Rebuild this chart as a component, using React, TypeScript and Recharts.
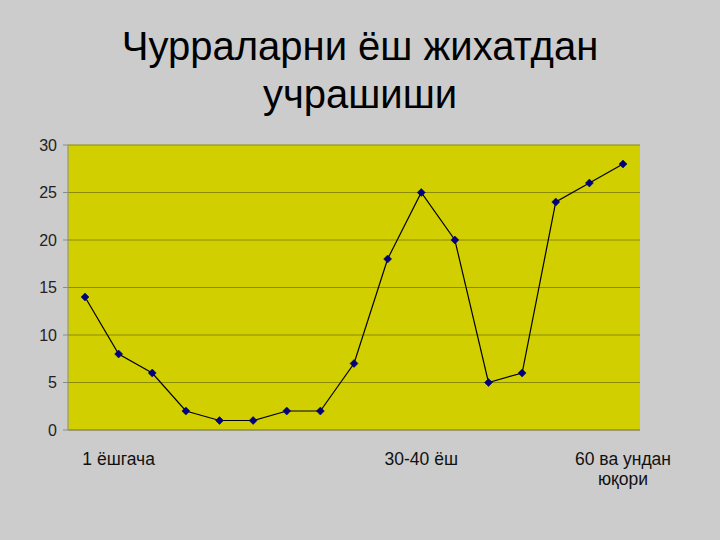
import React from 'react';
import {
  LineChart,
  Line,
  XAxis,
  YAxis,
  CartesianGrid,
} from 'recharts';

const title = ['Чурраларни ёш жихатдан', 'учрашиши'];

// age groups; only some of them carry a visible label
const categories = [
  '', '1 ёшгача', '', '', '', '', '', '', '', '', '30-40 ёш', '', '', '', '', '', '60 ва ундан\nюқори',
];
const cases = [14, 8, 6, 2, 1, 1, 2, 2, 7, 18, 25, 20, 5, 6, 24, 26, 28];
const yTicks = [0, 5, 10, 15, 20, 25, 30];

const data = cases.map((v, i) => ({ name: String(i), label: categories[i], value: v }));

const AgeTick = (props: any) => {
  const { x, y, payload } = props;
  const label = categories[payload.index] || '';
  if (!label) return null;
  const lines = label.split('\n');
  return (
    <text
      x={x}
      y={y + 27}
      textAnchor="middle"
      fontFamily="Liberation Sans, Arial, sans-serif"
      fontSize={17.5}
      fill="#111"
    >
      {lines.map((l: string, i: number) => (
        <tspan key={i} x={x} dy={i === 0 ? 0 : 20}>
          {l}
        </tspan>
      ))}
    </text>
  );
};

const Diamond = (props: any) => {
  const { cx, cy } = props;
  if (cx == null || cy == null) return null;
  const r = 4;
  return (
    <path
      d={`M${cx},${cy - r} L${cx + r},${cy} L${cx},${cy + r} L${cx - r},${cy} Z`}
      fill="#000080"
      stroke="#000060"
      strokeWidth={0.5}
    />
  );
};

export default function App() {
  return (
    <div
      style={{
        position: 'absolute',
        left: 0,
        top: 0,
        width: 720,
        height: 540,
        background: '#cccccc',
        overflow: 'hidden',
      }}
    >
      <div
        style={{
          position: 'absolute',
          top: 22,
          left: 0,
          width: 720,
          textAlign: 'center',
          fontFamily: '"Liberation Sans Narrow", "Liberation Sans", Arial, sans-serif',
          fontSize: 40,
          lineHeight: '48px',
          color: '#000',
        }}
      >
        {title.map((t) => (
          <div key={t}>{t}</div>
        ))}
      </div>
      <div style={{ position: 'absolute', left: 0, top: 0 }}>
        <LineChart
          width={720}
          height={540}
          data={data}
          margin={{ top: 145, right: 80, bottom: 70, left: 20 }}
        >
          <CartesianGrid
            vertical={false}
            stroke="#8c8a00"
            fill="#d2cf00"
            fillOpacity={1}
          />
          <XAxis
            dataKey="name"
            interval={0}
            padding={{ left: 17, right: 17 }}
            height={40}
            tick={<AgeTick />}
            tickLine={false}
            axisLine={{ stroke: '#8a8a8a' }}
          />
          <YAxis
            width={48}
            domain={[0, 30]}
            ticks={yTicks}
            tickSize={5}
            tickMargin={6}
            tickLine={{ stroke: '#8a8a8a' }}
            axisLine={{ stroke: '#8a8a8a' }}
            tick={{ fill: '#222', fontSize: 16, fontFamily: 'Liberation Sans, Arial, sans-serif' }}
          />
          <Line
            type="linear"
            dataKey="value"
            stroke="#000"
            strokeWidth={1.2}
            dot={<Diamond />}
            activeDot={false}
            isAnimationActive={false}
          />
        </LineChart>
      </div>
    </div>
  );
}
